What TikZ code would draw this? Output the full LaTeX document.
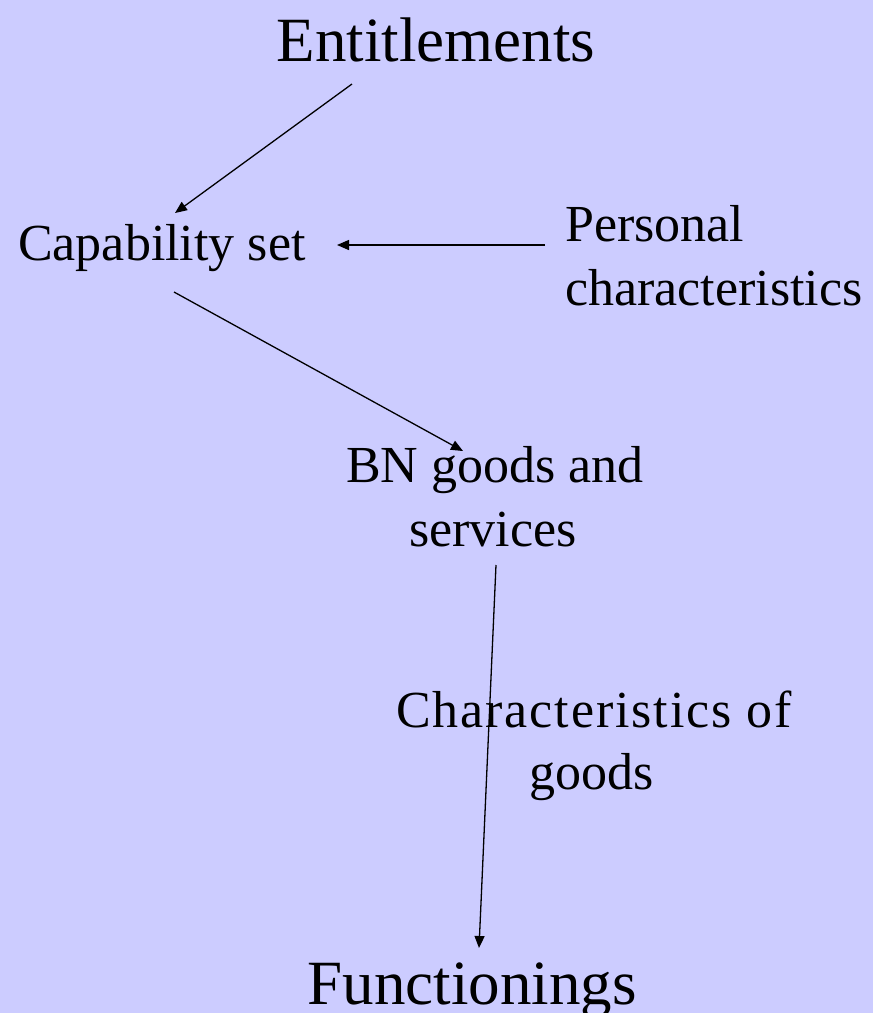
\documentclass[tikz,border=0pt]{standalone}
\usepackage{fontspec}
\setmainfont{Liberation Serif}
\usetikzlibrary{arrows.meta}
\definecolor{bgcol}{RGB}{204,204,255}
\tikzset{
  big/.style={inner sep=0pt, anchor=base, font=\fontsize{63}{75}\selectfont},
  mid/.style={inner sep=0pt, anchor=base, font=\fontsize{52}{62}\selectfont},
  arr/.style={line width=1.3pt, -{Triangle[length=12pt,width=10pt]}},
}
\begin{document}
\begin{tikzpicture}[x=1pt,y=-1pt]
\fill[bgcol] (0,0) rectangle (873,1013);
\useasboundingbox (0,0) rectangle (873,1013);
\node[big] (ent) at (436,61) {Entitlements};
\node[mid, anchor=base west] (cap) at (18,260) {Capability set};
\node[mid, anchor=base west] (pers1) at (565,241) {Personal};
\node[mid, anchor=base west] (pers2) at (565,305) {characteristics};
\node[mid] (bn1) at (495,482) {BN goods and};
\node[mid] (bn2) at (493,546) {services};
\node[mid] (ch1) at (594,727) {\addfontfeature{LetterSpace=3.6}Characteristics of};
\node[mid] (ch2) at (592,789) {goods};
\node[big] (fun) at (472,1004) {Functionings};
\coordinate (a1s) at (352,84);  \coordinate (a1e) at (175,213);
\coordinate (a2s) at (545,245); \coordinate (a2e) at (337,245);
\coordinate (a3s) at (174,292); \coordinate (a3e) at (463,451);
\coordinate (a4s) at (496,565); \coordinate (a4e) at (479,948);
\draw[arr] (a1s) -- (a1e);
\draw[arr] (a2s) -- (a2e);
\draw[arr] (a3s) -- (a3e);
\draw[arr] (a4s) -- (a4e);
\end{tikzpicture}
\end{document}
